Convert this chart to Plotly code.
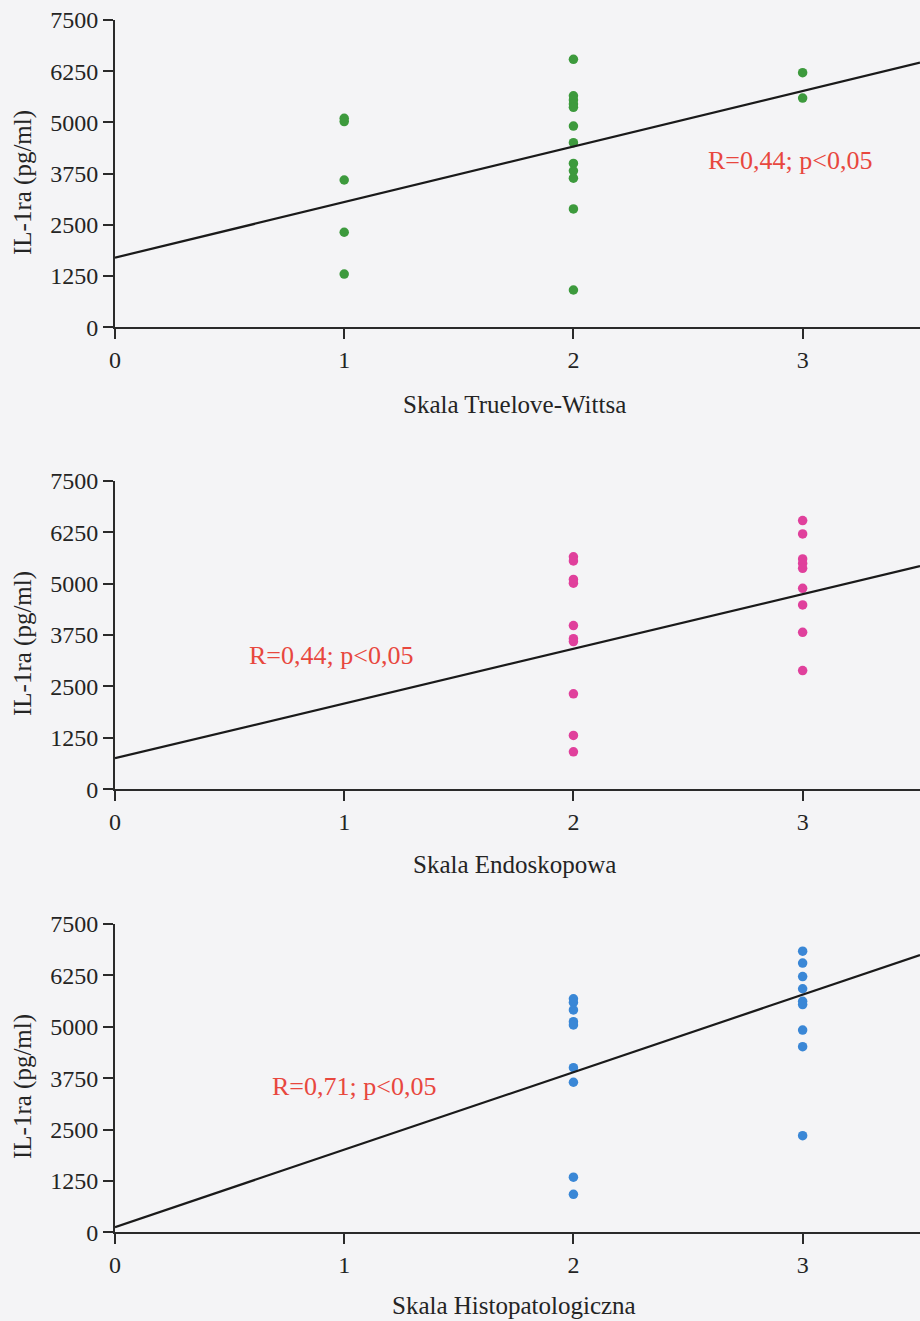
import plotly.graph_objects as go

# ---------------- data ----------------
tw_x = [1, 1, 1, 1, 1,
        2, 2, 2, 2, 2, 2, 2, 2, 2, 2, 2, 2,
        3, 3]
tw_y = [5100, 5020, 3595, 2320, 1300,
        6540, 5650, 5550, 5450, 5370, 4910, 4505, 4000, 3820, 3640, 2890, 910,
        6215, 5595]

en_x = [2, 2, 2, 2, 2, 2, 2, 2, 2, 2,
        3, 3, 3, 3, 3, 3, 3, 3, 3]
en_y = [5650, 5550, 5100, 5010, 3980, 3660, 3590, 2320, 1310, 910,
        6530, 6205, 5600, 5490, 5370, 4885, 4480, 3815, 2885]

hi_x = [2, 2, 2, 2, 2, 2, 2, 2, 2,
        3, 3, 3, 3, 3, 3, 3, 3, 3]
hi_y = [5680, 5590, 5410, 5125, 5045, 4005, 3650, 1340, 925,
        6840, 6550, 6220, 5925, 5620, 5540, 4920, 4515, 2350]

# regression lines (intercept, slope)
fit_intercept = [1700, 755, 125]
fit_slope = [1355, 1330, 1885]

annotations_text = ["R=0,44; p<0,05", "R=0,44; p<0,05", "R=0,71; p<0,05"]
x_titles = ["Skala Truelove-Wittsa", "Skala Endoskopowa", "Skala Histopatologiczna"]
y_title = "IL-1ra (pg/ml)"
y_ticks = [0, 1250, 2500, 3750, 5000, 6250, 7500]
x_ticks = [0, 1, 2, 3]
colors = ["#3d9a3d", "#e0409c", "#3a87d6"]

# ---------------- layout ----------------
W, H = 920, 1321
XMAX = 3.512
x_dom = [115 / W, 1.0]
# pixel tops/bottoms of the three plot areas
panel_px = [(20, 327.3), (480.7, 789.3), (924, 1232.3)]
ann_pos = [(2.944, 4083), (0.942, 3264), (1.043, 3535)]
xtitle_py = [404, 864, 1305]
ytitle_py = [183, 644, 1087]

FONT = "Liberation Serif, Times New Roman, serif"
TXT = "#242424"
fig = go.Figure()

series = [(tw_x, tw_y), (en_x, en_y), (hi_x, hi_y)]
for i, (xs, ys) in enumerate(series):
    suf = "" if i == 0 else str(i + 1)
    xa, ya = "x" + suf, "y" + suf
    fig.add_trace(go.Scatter(
        x=xs, y=ys, mode="markers", xaxis=xa, yaxis=ya,
        marker=dict(symbol="circle", size=9.5, color=colors[i]),
        showlegend=False, hoverinfo="skip"))
    lx = [0, XMAX]
    ly = [fit_intercept[i] + fit_slope[i] * v for v in lx]
    fig.add_trace(go.Scatter(
        x=lx, y=ly, mode="lines", xaxis=xa, yaxis=ya,
        line=dict(color="#1a1a1a", width=2.2),
        showlegend=False, hoverinfo="skip"))

    top, bot = panel_px[i]
    y_dom = [(H - bot) / H, (H - top) / H]
    axis_common = dict(showgrid=False, zeroline=False, showline=True,
                       linecolor="#2a2a2a", linewidth=2, ticks="outside",
                       tickcolor="#2a2a2a", tickwidth=2, ticklen=10,
                       automargin=False,
                       tickfont=dict(family=FONT, size=24, color=TXT))
    fig.layout["xaxis" + suf] = dict(
        domain=x_dom, range=[0, XMAX], anchor=ya, tickvals=x_ticks,
        ticktext=[str(v) for v in x_ticks], **axis_common)
    fig.layout["yaxis" + suf] = dict(
        domain=y_dom, range=[0, 7500], anchor=xa, tickvals=y_ticks,
        ticktext=[str(v) for v in y_ticks], ticklabelstandoff=0,
        **axis_common)
    fig.add_annotation(
        x=ann_pos[i][0], y=ann_pos[i][1], xref=xa, yref=ya,
        text=annotations_text[i], showarrow=False,
        font=dict(family=FONT, size=26, color="#e8473e"))
    # x axis title
    fig.add_annotation(
        x=514 / W, y=(H - xtitle_py[i]) / H, xref="paper", yref="paper",
        text=x_titles[i], showarrow=False, xanchor="center", yanchor="middle",
        font=dict(family=FONT, size=25, color=TXT))
    # y axis title
    fig.add_annotation(
        x=23 / W, y=(H - ytitle_py[i]) / H, xref="paper", yref="paper",
        text=y_title, showarrow=False, textangle=-90,
        xanchor="center", yanchor="middle",
        font=dict(family=FONT, size=25, color=TXT))

fig.update_layout(
    width=W, height=H, margin=dict(l=0, r=0, t=0, b=0),
    paper_bgcolor="#f4f4f6", plot_bgcolor="rgba(0,0,0,0)",
)

fig.write_html("out.html")
